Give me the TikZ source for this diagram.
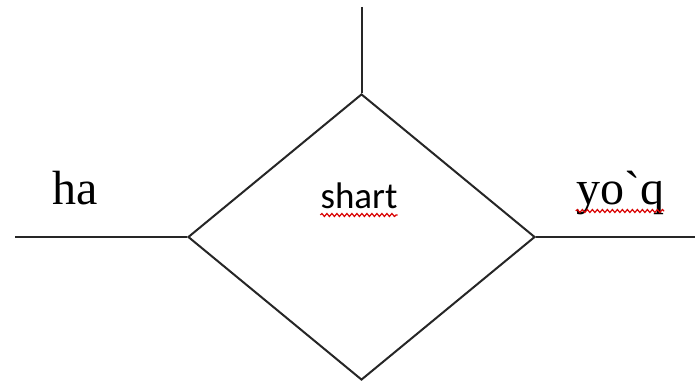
\documentclass[tikz,border=0pt]{standalone}
\usepackage{fontspec}
\setmainfont{Liberation Serif}
\newfontfamily\calib{Carlito}
\usepackage{tikz}
\usetikzlibrary{shapes.geometric,decorations.pathmorphing}
\tikzset{
  flowline/.style = {draw=black!85, line width=2pt},
  cond_d/.style = {diamond, flowline, inner sep=0pt, minimum width=347pt,
    minimum height=286pt},% blok shart
  lbl_s/.style = {inner sep=0pt, anchor=base, font=\fontsize{48}{56}\selectfont},% yozuv
  lbl_c/.style = {lbl_s, font=\calib\fontsize{37}{44}\selectfont},% shart yozuvi
  wavy/.style = {draw=red!85!black, line width=1.2pt,
    decorate, decoration={snake, amplitude=1.5pt, segment length=5pt}}
}

\begin{document}
\begin{tikzpicture}[x=1pt,y=1pt]
\useasboundingbox (0,0) rectangle (695,382);
\node [cond_d] (cond) at (361.5,145) {};
\coordinate (in) at (361.5,375);
\coordinate (yes) at (15,145);
\coordinate (no) at (695,145);
\draw [flowline] (in) -- (cond.north);
\draw [flowline] (yes) -- (cond.west);
\draw [flowline] (cond.east) -- (no);
\node [lbl_s] (ha) at (75,177) {ha};
\node [lbl_c] (shart) at (359,173) {shart};
\node [lbl_s] (yoq) at (620,177) {yo\textasciigrave q};
\draw [wavy] ([yshift=-6pt]shart.base west) -- ([yshift=-6pt]shart.base east);
\draw [wavy] ([yshift=-6pt]yoq.base west) -- ([yshift=-6pt]yoq.base east);
\end{tikzpicture}
\end{document}
